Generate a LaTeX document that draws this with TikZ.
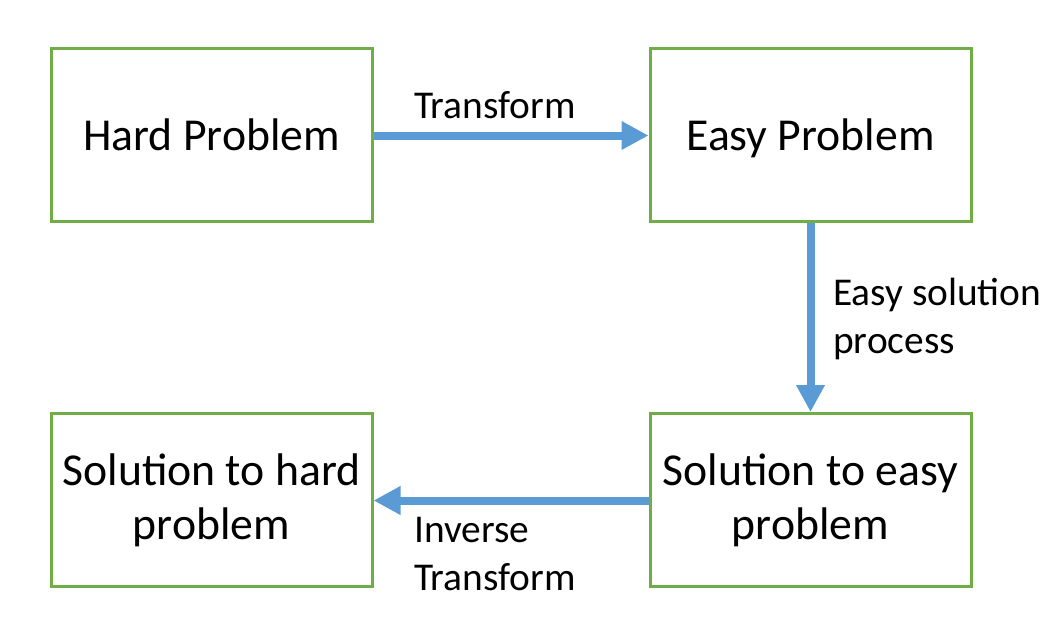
\documentclass[tikz,border=0pt]{standalone}
\usepackage{fontspec}
\setmainfont{Carlito}
\usetikzlibrary{arrows.meta}
\definecolor{boxgreen}{HTML}{70AD47}
\definecolor{arrblue}{HTML}{5B9BD5}
\begin{document}
\begin{tikzpicture}[x=1pt,y=-1pt,
  pbox/.style={draw=boxgreen,line width=3pt,minimum width=321pt,minimum height=173pt,inner sep=0pt,align=center,font=\fontsize{45.7}{54}\selectfont},
  flow/.style={draw=arrblue,line width=8pt,-{Triangle[length=27pt,width=27pt]},shorten >=0pt},
  lbl/.style={anchor=west,align=left,inner sep=0pt,font=\fontsize{39.4}{48}\selectfont}]
\useasboundingbox (0,0) rectangle (1048,637);
\node[pbox,text depth=0pt] (hard) at (211.5,134.5) {Hard Problem};
\node[pbox,text depth=0pt] (easy) at (810.5,134.5) {Easy Problem};
\node[pbox] (soleasy) at (810.5,500) {Solution to easy\\problem};
\node[pbox] (solhard) at (211.5,500) {Solution to hard\\problem};
\draw[flow] (hard.east|-0,135.5) -- (easy.west|-0,135.5);
\draw[flow] (easy.south) -- (soleasy.north);
\draw[flow] (soleasy.west|-0,500.5) -- (solhard.east|-0,500.5);
\node[lbl] (t1) at (414,105) {Transform};
\node[lbl] (t2) at (833,319) {Easy solution\\process};
\node[lbl] (t3) at (414,554) {Inverse\\Transform};
\end{tikzpicture}
\end{document}
